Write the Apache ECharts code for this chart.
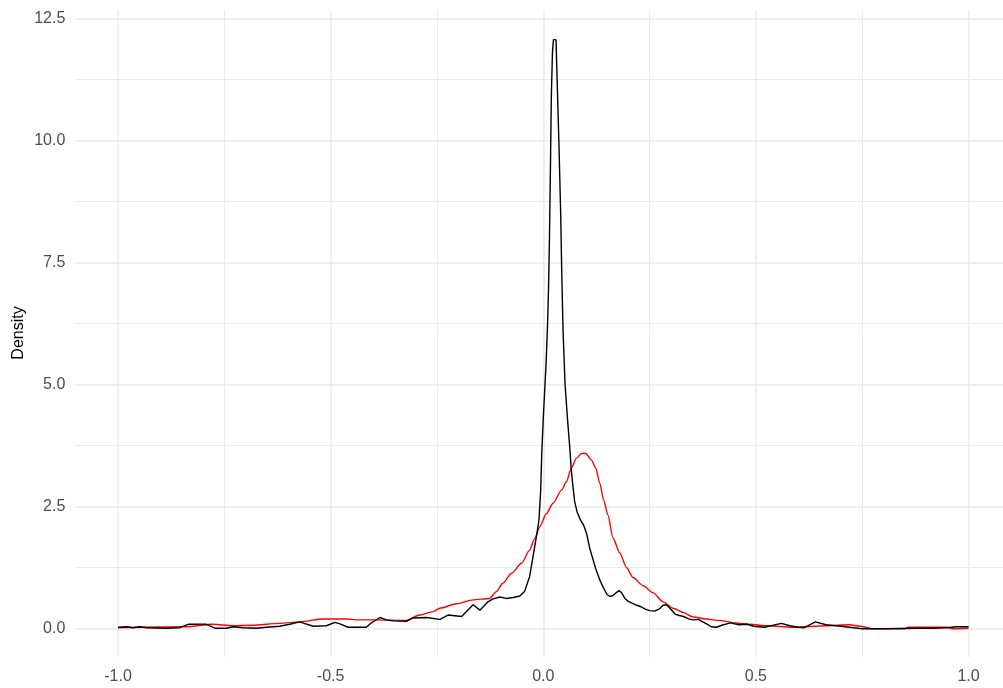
<!DOCTYPE html>
<html>
<head>
<meta charset="utf-8">
<script src="https://cdn.jsdelivr.net/npm/echarts@6/dist/echarts.min.js"></script>
<style>html,body{margin:0;padding:0;background:#fff}#c{width:1003px;height:688px}</style>
</head>
<body>
<div id="c"></div>
<script>
// ---- data ----
const xTicks = [-1.0, -0.5, 0.0, 0.5, 1.0];
const yTicks = [0.0, 2.5, 5.0, 7.5, 10.0, 12.5];
const yTitle = 'Density';

const blackX = [-1.000,-0.980,-0.965,-0.949,-0.933,-0.886,-0.855,-0.835,-0.792,-0.772,-0.745,-0.729,-0.706,-0.674,-0.651,-0.620,-0.596,-0.573,-0.541,-0.510,-0.490,-0.478,-0.459,-0.416,-0.404,-0.384,-0.369,-0.353,-0.322,-0.306,-0.275,-0.243,-0.224,-0.192,-0.165,-0.149,-0.130,-0.118,-0.102,-0.087,-0.071,-0.055,-0.044,-0.032,-0.024,-0.016,-0.010,-0.006,-0.0035,0.000,0.0035,0.007,0.010,0.0125,0.0146,0.017,0.019,0.0216,0.024,0.030,0.0325,0.037,0.041,0.0435,0.0466,0.0513,0.057,0.062,0.066,0.070,0.074,0.080,0.088,0.095,0.102,0.109,0.116,0.123,0.133,0.142,0.150,0.157,0.164,0.172,0.178,0.184,0.192,0.200,0.210,0.220,0.230,0.240,0.250,0.262,0.272,0.282,0.290,0.300,0.310,0.320,0.330,0.342,0.352,0.365,0.375,0.384,0.395,0.407,0.420,0.440,0.460,0.480,0.495,0.520,0.560,0.580,0.600,0.614,0.640,0.665,0.700,0.730,0.750,0.800,0.880,0.915,0.950,0.970,1.000];
const blackY = [0.03,0.04,0.02,0.04,0.02,0.01,0.02,0.09,0.09,0.01,0.01,0.04,0.02,0.01,0.03,0.05,0.09,0.14,0.05,0.06,0.13,0.10,0.03,0.03,0.12,0.23,0.18,0.16,0.15,0.22,0.23,0.19,0.28,0.25,0.49,0.38,0.55,0.61,0.65,0.62,0.64,0.67,0.76,1.07,1.48,1.89,2.23,2.84,3.6,4.3,4.9,5.5,6.2,7.0,8.0,9.5,10.9,11.8,12.07,12.07,11.3,9.9,8.5,7.3,6.1,5.0,4.3,3.75,3.25,2.9,2.6,2.38,2.22,2.12,1.95,1.66,1.45,1.24,1.0,0.83,0.70,0.66,0.68,0.74,0.78,0.74,0.62,0.56,0.52,0.48,0.45,0.40,0.37,0.36,0.40,0.48,0.49,0.40,0.30,0.27,0.25,0.20,0.18,0.19,0.14,0.10,0.04,0.03,0.07,0.12,0.08,0.09,0.05,0.03,0.11,0.06,0.03,0.02,0.14,0.08,0.05,0.02,0.00,0.00,0.01,0.01,0.02,0.04,0.04];

const redX = [-1.000,-0.940,-0.840,-0.777,-0.730,-0.683,-0.620,-0.573,-0.518,-0.463,-0.440,-0.393,-0.322,-0.291,-0.259,-0.243,-0.204,-0.165,-0.126,-0.110,-0.095,-0.075,-0.051,-0.032,-0.020,-0.008,0.0075,0.023,0.043,0.0545,0.066,0.078,0.090,0.100,0.113,0.1235,0.133,0.142,0.152,0.164,0.180,0.196,0.211,0.235,0.258,0.282,0.305,0.330,0.352,0.384,0.410,0.462,0.525,0.588,0.666,0.720,0.745,0.775,0.850,0.860,0.950,0.960,1.000];
const redY = [0.02,0.03,0.04,0.09,0.06,0.07,0.11,0.14,0.20,0.20,0.18,0.18,0.17,0.28,0.35,0.42,0.51,0.59,0.62,0.76,0.93,1.13,1.34,1.61,1.85,2.09,2.36,2.57,2.84,3.01,3.29,3.49,3.59,3.59,3.46,3.29,2.98,2.64,2.33,1.86,1.55,1.25,1.05,0.88,0.74,0.55,0.42,0.33,0.24,0.20,0.17,0.11,0.06,0.03,0.06,0.08,0.05,0.00,0.00,0.03,0.03,0.00,0.01];

const pairs = (xs, ys) => xs.map((x, i) => [x, ys[i]]);

const gridColor = '#EBEBEB';
const labelFont = { color: '#4D4D4D', fontSize: 16, fontFamily: 'Liberation Sans, Arial, sans-serif' };

const chart = echarts.init(document.getElementById('c'), null, { renderer: 'canvas' });
chart.setOption({
  animation: false,
  backgroundColor: '#ffffff',
  grid: [
    { left: 75.3, right: 0, top: 18.7, bottom: 59.3 },
    { left: 118, right: 34.5, top: 10, bottom: 31 }
  ],
  xAxis: [
    { gridIndex: 0, type: 'value', min: 0, max: 1, show: false },
    {
      gridIndex: 1, type: 'value', min: xTicks[0], max: xTicks[xTicks.length - 1], interval: 0.5,
      axisLine: { show: false }, axisTick: { show: false },
      axisLabel: Object.assign({ margin: 12, formatter: v => v.toFixed(1) }, labelFont),
      splitLine: { show: true, lineStyle: { color: gridColor, width: 1.5 } },
      minorTick: { show: false, splitNumber: 2 },
      minorSplitLine: { show: true, lineStyle: { color: gridColor, width: 1 } }
    }
  ],
  yAxis: [
    {
      gridIndex: 0, type: 'value', min: yTicks[0], max: yTicks[yTicks.length - 1], interval: 2.5,
      axisLine: { show: false }, axisTick: { show: false },
      axisLabel: Object.assign({ margin: 10, formatter: v => v.toFixed(1) }, labelFont),
      splitLine: { show: true, lineStyle: { color: gridColor, width: 1.5 } },
      minorTick: { show: false, splitNumber: 2 },
      minorSplitLine: { show: true, lineStyle: { color: gridColor, width: 1 } }
    },
    { gridIndex: 1, type: 'value', min: -0.58, max: 12.678, show: false }
  ],
  graphic: [{
    type: 'text',
    x: 19, y: 333, rotation: Math.PI / 2,
    style: { text: yTitle, fill: '#000000', fontSize: 16, fontFamily: 'Liberation Sans, Arial, sans-serif', align: 'center', verticalAlign: 'middle' }
  }],
  series: [
    {
      type: 'line', xAxisIndex: 1, yAxisIndex: 1, data: pairs(redX, redY),
      showSymbol: false, symbol: 'none', smooth: 0.25, smoothMonotone: 'x',
      lineStyle: { color: '#FF0000', width: 1.4 }, z: 3
    },
    {
      type: 'line', xAxisIndex: 1, yAxisIndex: 1, data: pairs(blackX, blackY),
      showSymbol: false, symbol: 'none', lineStyle: { color: '#000000', width: 1.4 }, z: 4
    }
  ]
});
</script>
</body>
</html>
